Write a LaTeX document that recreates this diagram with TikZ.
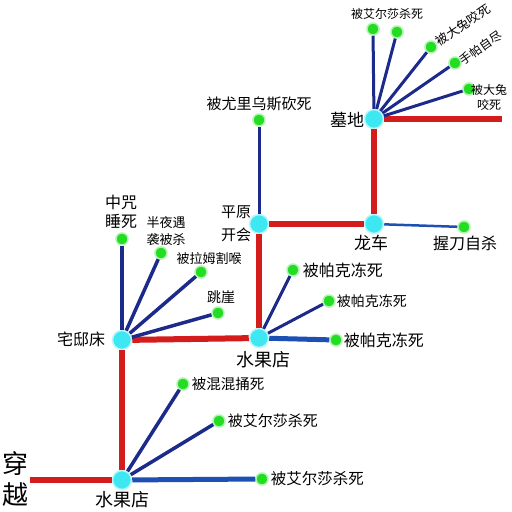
\documentclass[tikz,border=0pt]{standalone}
\usepackage{fontspec}
\setmainfont{Noto Sans CJK SC}
\usetikzlibrary{positioning}
\definecolor{hubcyan}{HTML}{3EE8F2}
\definecolor{leafgreen}{HTML}{22DD22}
\definecolor{routered}{HTML}{D41C1C}
\definecolor{deadnavy}{HTML}{1C2A8C}
\definecolor{deadblue}{HTML}{1E50B4}
\newcommand{\fs}[1]{\fontsize{#1}{#1}\selectfont}

\begin{document}
\begin{tikzpicture}[x=1pt,y=-1pt,
  hub/.style={circle,fill=hubcyan,draw=hubcyan!35,line width=1.5pt,minimum size=19pt,inner sep=0pt},
  leaf/.style={circle,fill=leafgreen,draw=leafgreen!35,line width=1.5pt,minimum size=12pt,inner sep=0pt},
  route/.style={routered,line width=6pt},
  branch/.style={deadnavy,line width=3.5pt},
  wide/.style={deadblue,line width=5pt},
  lbl/.style={inner sep=1pt,align=center}]
  \fill[white] (0,0) rectangle (512,512);
  \useasboundingbox (0,0) rectangle (512,512);
  % stations on the red route
  \node[hub] (fruitA) at (122,480) {};
  \node[hub] (manor) at (122,340) {};
  \node[hub] (fruitB) at (259,338) {};
  \node[hub] (plain) at (259,224) {};
  \node[hub] (dragon) at (374,224) {};
  \node[hub] (grave) at (374,119) {};
  \coordinate (start) at (30,480);
  \coordinate (tail) at (502,119);
  \draw[route] (start) -- (fruitA);
  \draw[route] (fruitA) -- (manor);
  \draw[route] (manor) -- (fruitB);
  \draw[route] (fruitB) -- (plain);
  \draw[route] (plain) -- (dragon);
  \draw[route] (dragon) -- (grave);
  \draw[route] (grave) -- (tail);
  % station names
  \node[lbl,font=\fontsize{26}{31}\selectfont] (cross) at (15,479) {穿\\越};
  \node[lbl,font=\fs{18}] (fruitAl) at (122,500) {水果店};
  \node[lbl,font=\fs{16}] (manorl) at (81,339) {宅邸床};
  \node[lbl,font=\fs{18}] (fruitBl) at (263,360) {水果店};
  \node[lbl,font=\fontsize{15}{23}\selectfont] (plainl) at (236,224) {平原\\开会};
  \node[lbl,font=\fs{17}] (dragonl) at (371,243) {龙车};
  \node[lbl,font=\fs{17}] (gravel) at (347,120) {墓地};
  % deaths from the first fruit shop
  \node[leaf] (a1) at (183,384) {};
  \node[leaf] (a2) at (219,421) {};
  \node[leaf] (a3) at (262,479) {};
  \draw[branch] (fruitA) -- (a1);
  \draw[branch] (fruitA) -- (a2);
  \draw[wide] (fruitA) -- (a3);
  \node[lbl,font=\fs{14.5},right=1pt of a1] {被混混捅死};
  \node[lbl,font=\fs{15},right=1pt of a2] {被艾尔莎杀死};
  \node[lbl,font=\fs{15.5},right=1pt of a3] {被艾尔莎杀死};
  % deaths from the manor bed
  \node[leaf] (m1) at (122,239) {};
  \node[leaf] (m2) at (161,253) {};
  \node[leaf] (m3) at (201,272) {};
  \node[leaf] (m4) at (218,313) {};
  \draw[branch] (manor) -- (m1);
  \draw[branch] (manor) -- (m2);
  \draw[branch] (manor) -- (m3);
  \draw[branch] (manor) -- (m4);
  \node[lbl,font=\fontsize{16}{19}\selectfont] at (121,212) {中咒\\睡死};
  \node[lbl,font=\fontsize{13}{17}\selectfont] at (166,231) {半夜遇\\袭被杀};
  \node[lbl,font=\fs{13}] at (209,259) {被拉姆割喉};
  \node[lbl,font=\fs{14}] at (221,297) {跳崖};
  % deaths from the second fruit shop
  \node[leaf] (b1) at (293,270) {};
  \node[leaf] (b2) at (329,301) {};
  \node[leaf] (b3) at (336,340) {};
  \draw[branch,line width=3pt] (fruitB) -- (b1);
  \draw[branch,line width=3pt] (fruitB) -- (b2);
  \draw[wide] (fruitB) -- (b3);
  \node[lbl,font=\fs{16},right=2pt of b1] {被帕克冻死};
  \node[lbl,font=\fs{14},right=0pt of b2] {被帕克冻死};
  \node[lbl,font=\fs{16},right=0pt of b3] {被帕克冻死};
  % plain and dragon carriage
  \node[leaf] (p1) at (259,120) {};
  \draw[branch,line width=3pt] (plain) -- (p1);
  \node[lbl,font=\fs{15}] at (259,104) {被尤里乌斯砍死};
  \node[leaf] (d1) at (464,227) {};
  \draw[deadblue,line width=2.5pt] (dragon) -- (d1);
  \node[lbl,font=\fs{16}] at (465,243) {握刀自杀};
  % deaths at the grave
  \node[leaf] (g1) at (373,29) {};
  \node[leaf] (g2) at (397,32) {};
  \node[leaf] (g3) at (431,47) {};
  \node[leaf] (g4) at (455,63) {};
  \node[leaf] (g5) at (469,89) {};
  \foreach \g in {g1,g2,g3,g4,g5}
    \draw[branch,line width=3pt] (grave) -- (\g);
  \node[lbl,font=\fs{12}] at (387,14) {被艾尔莎杀死};
  \node[lbl,font=\fs{12.5},rotate=34] at (463,25) {被大兔咬死};
  \node[lbl,font=\fs{12},rotate=35] at (481,48) {手帕自尽};
  \node[lbl,font=\fontsize{12}{15}\selectfont] at (489,97) {被大兔\\咬死};
\end{tikzpicture}
\end{document}
